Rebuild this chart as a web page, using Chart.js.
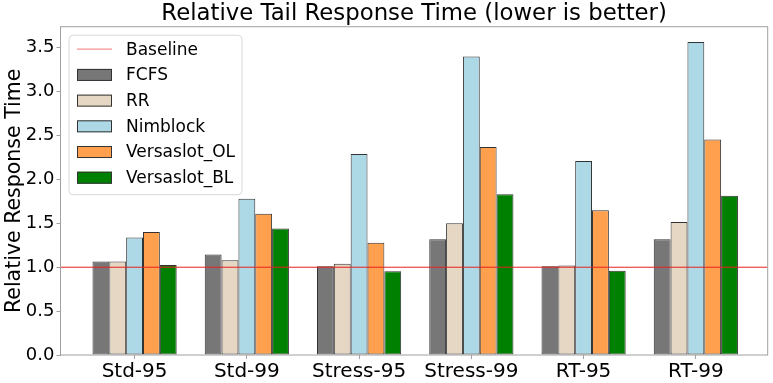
<!DOCTYPE html>
<html>
<head>
<meta charset="utf-8">
<script src="https://cdn.jsdelivr.net/npm/chart.js@4.4.1/dist/chart.umd.min.js"></script>
<style>
  html, body { margin: 0; padding: 0; background: #fff; }
  #wrap { width: 773px; height: 383px; position: relative; }
</style>
</head>
<body>
<div id="wrap"><canvas id="tail-chart"></canvas></div>
<script>
// Chart values
const categories = ['Std-95', 'Std-99', 'Stress-95', 'Stress-99', 'RT-95', 'RT-99'];
const fcfs       = [1.065, 1.145, 1.01, 1.32, 1.01, 1.32];
const rr         = [1.065, 1.08, 1.04, 1.50, 1.02, 1.515];
const nimblock   = [1.34, 1.78, 2.29, 3.40, 2.21, 3.565];
const versaOL    = [1.40, 1.61, 1.28, 2.37, 1.65, 2.455];
const versaBL    = [1.025, 1.44, 0.955, 1.83, 0.96, 1.815];
const baseline   = 1.0;
const yTicks     = [0, 0.5, 1.0, 1.5, 2.0, 2.5, 3.0, 3.5];

const X_MIN = -0.66, X_MAX = 5.64;
const FONT = "'DejaVu Sans', sans-serif";

const toPoints = vals => vals.map((v, i) => ({ x: i, y: v }));

const barSet = (label, vals, color) => ({
    type: 'bar',
    label: label,
    data: toPoints(vals),
    backgroundColor: color,
    borderColor: '#333333',
    borderWidth: 1,
    borderSkipped: false,
    categoryPercentage: 0.75,
    barPercentage: 1.0
});

// Gray box around the plot area, like matplotlib spines
const frameBox = {
    id: 'frameBox',
    afterDatasetsDraw(chart) {
        const { ctx, chartArea: a } = chart;
        ctx.save();
        ctx.strokeStyle = '#a0a0a0';
        ctx.lineWidth = 1;
        ctx.strokeRect(a.left, a.top, a.right - a.left, a.bottom - a.top);
        ctx.restore();
    }
};

// Legend drawn inside the plot (upper left), built from the datasets
const innerLegend = {
    id: 'innerLegend',
    afterDraw(chart) {
        const { ctx, chartArea: a } = chart;
        const sets = chart.data.datasets;
        const rowH = 25.7;
        const x0 = a.left + 8.5, y0 = a.top + 8.5;
        ctx.save();
        ctx.font = '17px ' + FONT;
        const textW = Math.max(...sets.map(s => ctx.measureText(s.label).width));
        const w = 8 + 35 + 14 + textW + 7;
        const h = 14 + rowH * (sets.length - 1) + 17;

        ctx.beginPath();
        ctx.roundRect(x0, y0, w, h, 4);
        ctx.fillStyle = 'rgba(255,255,255,0.8)';
        ctx.fill();
        ctx.strokeStyle = '#d8d8d8';
        ctx.lineWidth = 1;
        ctx.stroke();

        sets.forEach((s, i) => {
            const cy = y0 + 14 + i * rowH;
            const sx = x0 + 8;
            if (s.type === 'line') {
                ctx.strokeStyle = 'rgba(240,60,60,0.55)';
                ctx.lineWidth = 1.2;
                ctx.beginPath();
                ctx.moveTo(sx, cy);
                ctx.lineTo(sx + 35, cy);
                ctx.stroke();
            } else {
                ctx.fillStyle = s.backgroundColor;
                ctx.fillRect(sx, cy - 6, 35, 12);
                ctx.strokeStyle = s.borderColor;
                ctx.lineWidth = 1;
                ctx.strokeRect(sx + 0.5, cy - 5.5, 34, 11);
            }
            ctx.fillStyle = '#000';
            ctx.textBaseline = 'middle';
            ctx.textAlign = 'left';
            ctx.fillText(s.label, sx + 35 + 14, cy + 1);
        });
        ctx.restore();
    }
};

const ctx = document.getElementById('tail-chart').getContext('2d');

new Chart(ctx, {
    type: 'bar',
    data: {
        datasets: [
            {
                type: 'line',
                label: 'Baseline',
                data: [{ x: X_MIN, y: baseline }, { x: X_MAX, y: baseline }],
                borderColor: '#e8201f',
                borderWidth: 1,
                pointRadius: 0,
                fill: false
            },
            barSet('FCFS', fcfs, '#777777'),
            barSet('RR', rr, '#e5d7c3'),
            barSet('Nimblock', nimblock, '#add8e6'),
            barSet('Versaslot_OL', versaOL, '#ffa04f'),
            barSet('Versaslot_BL', versaBL, '#008000')
        ]
    },
    options: {
        responsive: true,
        maintainAspectRatio: false,
        animation: false,
        layout: { padding: { left: 0, right: 5.3, top: 0, bottom: 0 } },
        plugins: {
            legend: { display: false },
            tooltip: { enabled: false },
            title: {
                display: true,
                fullSize: false,
                text: 'Relative Tail Response Time (lower is better)',
                color: '#000',
                font: { family: FONT, size: 22.8, weight: 'normal', lineHeight: 1.15 },
                padding: { top: 0.5, bottom: 0 }
            }
        },
        scales: {
            x: {
                type: 'linear',
                min: X_MIN,
                max: X_MAX,
                offset: false,
                afterFit: scale => { scale.height = 28; },
                afterBuildTicks: axis => { axis.ticks = categories.map((c, i) => ({ value: i })); },
                grid: { display: true, offset: false, drawOnChartArea: false, drawTicks: true, tickLength: 4, color: '#a0a0a0' },
                border: { display: false },
                ticks: {
                    color: '#000',
                    padding: 1,
                    maxRotation: 0,
                    autoSkip: false,
                    font: { family: FONT, size: 20 },
                    callback: v => categories[v] ?? ''
                }
            },
            y: {
                min: 0,
                max: 3.74,
                afterFit: scale => { scale.width = 60.5; },
                afterBuildTicks: axis => { axis.ticks = yTicks.map(v => ({ value: v })); },
                grid: { display: true, drawOnChartArea: false, drawTicks: true, tickLength: 4, color: '#a0a0a0' },
                border: { display: false },
                title: {
                    display: true,
                    text: 'Relative Response Time',
                    color: '#000',
                    font: { family: FONT, size: 20.5 },
                    padding: { top: 2.5, bottom: 0 }
                },
                ticks: {
                    color: '#000',
                    padding: 2,
                    font: { family: FONT, size: 18 },
                    callback: v => Number(v).toFixed(1)
                }
            }
        }
    },
    plugins: [frameBox, innerLegend]
});
</script>
</body>
</html>
